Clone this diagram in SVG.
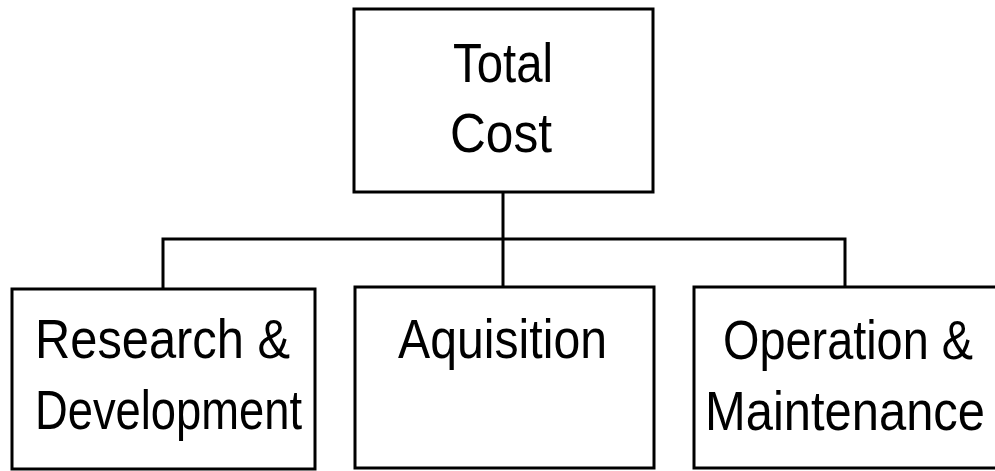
<svg xmlns="http://www.w3.org/2000/svg" width="995" height="471" viewBox="0 0 995 471">
  <style>
    .box { fill: #ffffff; stroke: #000000; stroke-width: 3; }
    .wire { fill: none; stroke: #000000; stroke-width: 3; }
    .label { font-family: "Liberation Sans", Arial, sans-serif; font-size: 55px; fill: #000000; }
  </style>
  <rect width="995" height="471" fill="#ffffff"/>

  <g id="connectors">
    <path class="wire" d="M503 192 V287"/>
    <path class="wire" d="M163 289 V239 H845 V287"/>
  </g>

  <g id="total-cost">
    <rect class="box" x="354" y="9" width="299" height="183"/>
    <text class="label" x="453" y="82" textLength="100" lengthAdjust="spacingAndGlyphs">Total</text>
    <text class="label" x="450" y="152" textLength="102" lengthAdjust="spacingAndGlyphs">Cost</text>
  </g>

  <g id="research-development">
    <rect class="box" x="12" y="289" width="303" height="180"/>
    <text class="label" x="35" y="358" textLength="255" lengthAdjust="spacingAndGlyphs">Research &amp;</text>
    <text class="label" x="35" y="429" textLength="267" lengthAdjust="spacingAndGlyphs">Development</text>
  </g>

  <g id="aquisition">
    <rect class="box" x="355" y="287" width="299" height="181"/>
    <text class="label" x="398" y="358" textLength="209" lengthAdjust="spacingAndGlyphs">Aquisition</text>
  </g>

  <g id="operation-maintenance">
    <rect class="box" x="694" y="287" width="310" height="181"/>
    <text class="label" x="723" y="359" textLength="250" lengthAdjust="spacingAndGlyphs">Operation &amp;</text>
    <text class="label" x="705" y="430" textLength="280" lengthAdjust="spacingAndGlyphs">Maintenance</text>
  </g>
</svg>
